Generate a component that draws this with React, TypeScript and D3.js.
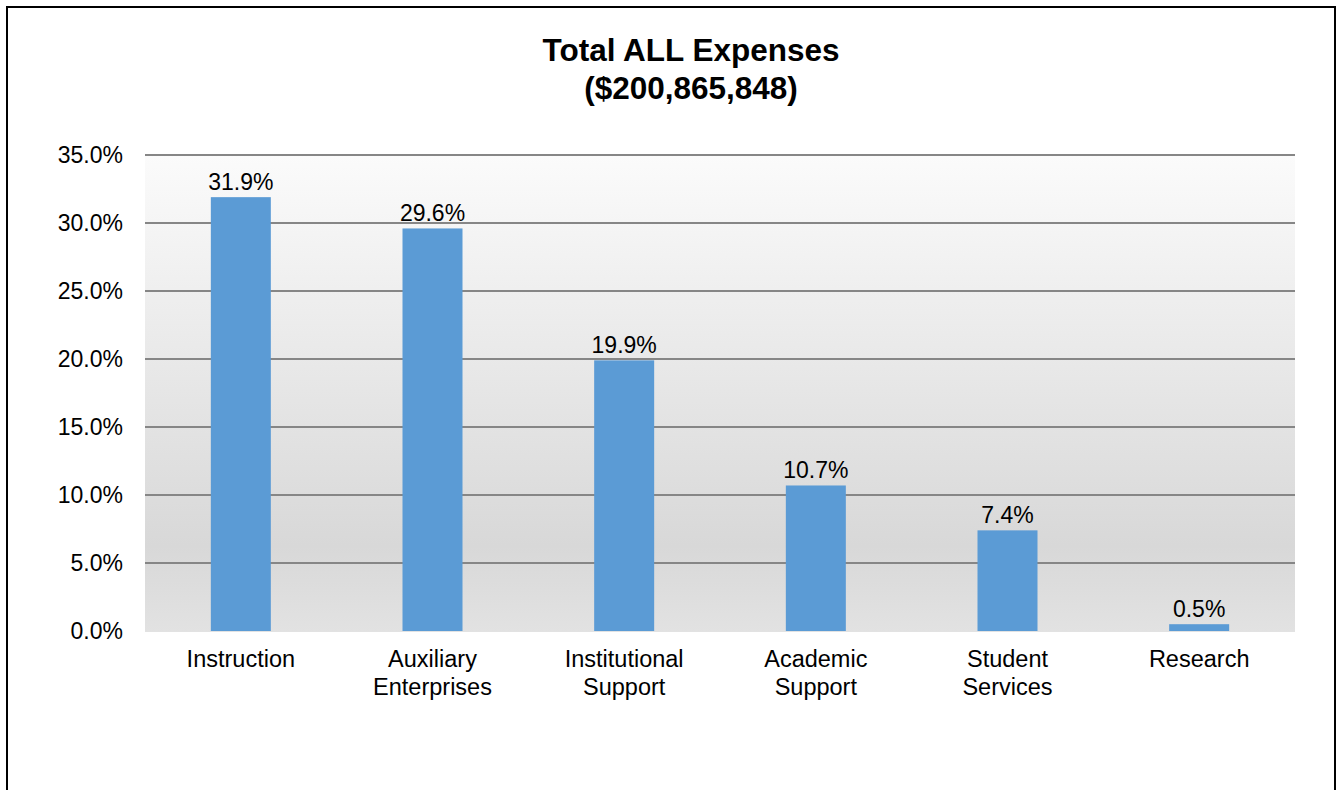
import React from "react";
import * as d3 from "d3";

const categories: string[][] = [
  ["Instruction"],
  ["Auxiliary", "Enterprises"],
  ["Institutional", "Support"],
  ["Academic", "Support"],
  ["Student", "Services"],
  ["Research"],
];
const values: number[] = [31.9, 29.6, 19.9, 10.7, 7.4, 0.5];
const yTicks: number[] = [0, 5, 10, 15, 20, 25, 30, 35];
const titleLines: string[] = ["Total ALL Expenses", "($200,865,848)"];

const W = 1342;
const H = 790;
const plot = { left: 145, right: 1295, top: 155, bottom: 631 };
const FONT = "'Liberation Sans', Arial, sans-serif";

export default function App() {
  const y = d3.scaleLinear().domain([0, 35]).range([plot.bottom, plot.top]);
  const x = d3
    .scaleBand<number>()
    .domain(values.map((_, i) => i))
    .range([plot.left, plot.right]);
  const band = x.bandwidth();
  const bw = 60;

  return (
    <svg
      width={W}
      height={H}
      style={{ position: "absolute", left: 0, top: 0, background: "#fff" }}
      fontFamily={FONT}
    >
      <defs>
        <linearGradient id="bg" x1="0" y1="0" x2="0" y2="1">
          <stop offset="0" stopColor="#fbfbfb" />
          <stop offset="0.82" stopColor="#d8d8d8" />
          <stop offset="1" stopColor="#e2e2e2" />
        </linearGradient>
      </defs>
      <rect x={0} y={0} width={W} height={H} fill="#fff" />
      <rect x={7} y={7} width={1328} height={800} fill="none" stroke="#000" strokeWidth={2} />
      <g textAnchor="middle" fontWeight="bold" fontSize={31.5} fill="#000">
        {titleLines.map((t, i) => (
          <text key={i} x={691} y={61 + i * 38}>
            {t}
          </text>
        ))}
      </g>
      <rect
        x={plot.left}
        y={plot.top}
        width={plot.right - plot.left}
        height={plot.bottom - plot.top + 1}
        fill="url(#bg)"
      />
      {yTicks.slice(1).map((t) => (
        <line
          key={t}
          x1={plot.left}
          x2={plot.right}
          y1={y(t)}
          y2={y(t)}
          stroke="#868686"
          strokeWidth={2}
        />
      ))}
      <g fontSize={23} textAnchor="end" fill="#000">
        {yTicks.map((t) => (
          <text key={t} x={123} y={y(t) + 7.5}>
            {t.toFixed(1) + "%"}
          </text>
        ))}
      </g>
      {values.map((v, i) => {
        const cx = (x(i) as number) + band / 2;
        return (
          <g key={i}>
            <rect
              x={cx - bw / 2}
              y={y(v)}
              width={bw}
              height={y(0) - y(v)}
              fill="#5b9bd5"
            />
            <text x={cx} y={y(v) - 7} textAnchor="middle" fontSize={23} fill="#000">
              {v.toFixed(1) + "%"}
            </text>
            {categories[i].map((line, j) => (
              <text
                key={j}
                x={cx}
                y={667 + j * 28}
                textAnchor="middle"
                fontSize={23.5}
                fill="#000"
              >
                {line}
              </text>
            ))}
          </g>
        );
      })}
    </svg>
  );
}
